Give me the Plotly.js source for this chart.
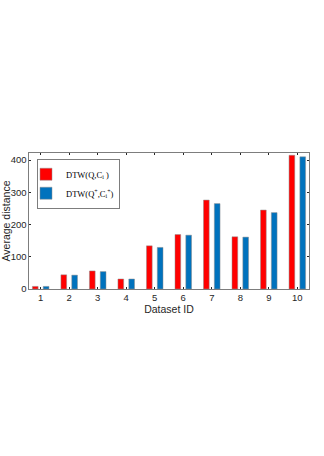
<!DOCTYPE html>
<html>
<head>
<meta charset="utf-8">
<script src="https://cdn.plot.ly/plotly-3.0.1.min.js"></script>
<style>
  html, body { margin: 0; padding: 0; background: #fff; }
  #chart { width: 324px; height: 456px; }
</style>
</head>
<body>
<div id="chart"></div>
<script>
// dataset ids and average distances
const datasetIds = [1, 2, 3, 4, 5, 6, 7, 8, 9, 10];
const dtwPlain = [8, 44, 56, 31, 134, 169, 276, 162, 245, 415];
const dtwPlus = [8, 43, 54, 31, 129, 167, 265, 161, 237, 410];
const yTicks = [0, 100, 200, 300, 400];

const axisColor = "#262626";

const data = [
	{
		type: "bar",
		x: datasetIds,
		y: dtwPlain,
		name: "DTW(Q,C<sub>i</sub> )",
		width: 0.2,
		offset: -0.29,
		marker: { color: "#ff0000", line: { color: "#8c8c8c", width: 0.5 } },
	},
	{
		type: "bar",
		x: datasetIds,
		y: dtwPlus,
		name: "DTW(Q<sup>+</sup>,C<sub>i</sub><sup>+</sup>)",
		width: 0.2,
		offset: 0.09,
		marker: { color: "#0072bd", line: { color: "#8c8c8c", width: 0.5 } },
	},
];

const layout = {
	width: 324,
	height: 456,
	paper_bgcolor: "#fff",
	plot_bgcolor: "#fff",
	margin: { l: 29, r: 15, t: 153, b: 167 },
	font: { family: "Liberation Sans, Arial, sans-serif", size: 9.5, color: axisColor },
	showlegend: true,
	legend: {
		x: 0.03,
		y: 0.955,
		xanchor: "left",
		yanchor: "top",
		bgcolor: "#fff",
		bordercolor: axisColor,
		borderwidth: 0.6,
		indentation: -12,
		font: { family: "Liberation Serif, Times New Roman, serif", size: 8.5, color: "#000" },
		tracegroupgap: 0,
	},
	xaxis: {
		range: [0.59, 10.41],
		tickvals: datasetIds,
		ticktext: datasetIds.map(String),
		ticks: "inside",
		ticklen: 2,
		tickcolor: axisColor,
		showline: true,
		linecolor: axisColor,
		linewidth: 0.6,
		mirror: "allticks",
		showgrid: false,
		zeroline: false,
		title: { text: "Dataset ID", font: { size: 10.5 }, standoff: 2 },
	},
	yaxis: {
		range: [0, 422],
		tickvals: yTicks,
		ticks: "inside",
		ticklen: 2,
		tickcolor: axisColor,
		showline: true,
		linecolor: axisColor,
		linewidth: 0.6,
		mirror: "allticks",
		showgrid: false,
		zeroline: false,
		title: { text: "Average distance", font: { size: 10.5 }, standoff: 3 },
	},
};

Plotly.newPlot("chart", data, layout, { displayModeBar: false, staticPlot: true });
</script>
</body>
</html>
